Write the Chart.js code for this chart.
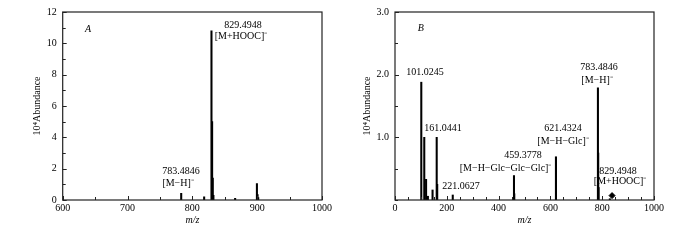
<!DOCTYPE html>
<html>
<head>
<meta charset="utf-8">
<script src="https://cdn.jsdelivr.net/npm/chart.js@4"></script>
<style>
  html, body { margin: 0; padding: 0; background: #fff; }
  .wrap { display: flex; width: 700px; height: 240px; }
  .wrap div { width: 350px; height: 240px; position: relative; }
</style>
</head>
<body>
<div class="wrap">
  <div><canvas id="chartA"></canvas></div>
  <div><canvas id="chartB"></canvas></div>
</div>
<script>
'use strict';

// Panel A: full scan, m/z 600-1000
const mzA  = [782.8, 818.2, 829.5, 830.5, 831.5, 832.5, 866, 899.6, 900.6, 901.6];
const intA = [0.43, 0.2, 10.8, 5.0, 1.4, 0.3, 0.1, 1.05, 0.35, 0.15];

// Panel B: MS/MS of 783.4846
const mzB  = [101.5, 113, 120, 127, 145, 161, 163, 223, 459.4, 460.5, 621.4, 783.5, 784.6, 786, 829.5];
const intB = [1.88, 1.0, 0.33, 0.06, 0.16, 1.0, 0.25, 0.08, 0.39, 0.1, 0.69, 1.79, 0.75, 0.2, 0.02];

// precursor marker (diamond)
const markerB = [{ x: 838, y: 0.07 }];

// peak labels: text, anchor m/z, anchor abundance
const labelsA = [
  { t: 'A', x: 639, y: 10.9, it: true },
  { t: '829.4948', x: 878, y: 11.15 },
  { t: '[M+HOOC]\u207B', x: 875, y: 10.45 },
  { t: '783.4846', x: 782.5, y: 1.84 },
  { t: '[M\u2212H]\u207B', x: 778, y: 1.08 },
];
const labelsB = [
  { t: 'B', x: 100, y: 2.74, it: true },
  { t: '101.0245', x: 116, y: 2.04 },
  { t: '161.0441', x: 185, y: 1.15 },
  { t: '221.0627', x: 255, y: 0.21 },
  { t: '459.3778', x: 494, y: 0.72 },
  { t: '[M\u2212H\u2212Glc\u2212Glc\u2212Glc]\u207B', x: 427, y: 0.51 },
  { t: '621.4324', x: 649, y: 1.15 },
  { t: '[M\u2212H\u2212Glc]\u207B', x: 649, y: 0.94 },
  { t: '783.4846', x: 788, y: 2.12 },
  { t: '[M\u2212H]\u207B', x: 780, y: 1.91 },
  { t: '829.4948', x: 861, y: 0.46 },
  { t: '[M+HOOC]\u207B', x: 869, y: 0.29 },
];

const FONT = '"Liberation Serif", "Times New Roman", serif';
const INK = '#000';
const AXIS = '#222';

// frame + inward tick marks + peak labels
const framePlugin = {
  id: 'frame',
  afterDraw(chart, args, opts) {
    const { ctx, chartArea: a, scales } = chart;
    ctx.save();
    ctx.strokeStyle = AXIS;
    ctx.lineWidth = 1.2;
    ctx.strokeRect(a.left, a.top, a.right - a.left, a.bottom - a.top);
    ctx.lineWidth = 1;
    scales.x.ticks.forEach(tk => {
      const px = Math.round(scales.x.getPixelForValue(tk.value)) + 0.5;
      const len = tk.label ? 4 : 3;
      ctx.beginPath();
      ctx.moveTo(px, a.bottom); ctx.lineTo(px, a.bottom - len);
      ctx.stroke();
    });
    scales.y.ticks.forEach(tk => {
      const py = Math.round(scales.y.getPixelForValue(tk.value)) + 0.5;
      const len = tk.label ? 4 : 3;
      ctx.beginPath();
      ctx.moveTo(a.left, py); ctx.lineTo(a.left + len, py);
      ctx.stroke();
    });
    ctx.fillStyle = INK;
    ctx.textAlign = 'center';
    ctx.textBaseline = 'middle';
    (opts.labels || []).forEach(l => {
      ctx.font = (l.it ? 'italic ' : '') + '10px ' + FONT;
      ctx.fillText(l.t, scales.x.getPixelForValue(l.x), scales.y.getPixelForValue(l.y));
    });
    ctx.restore();
  },
};

function makeSpectrum(id, mz, ab, cfg) {
  const datasets = [{
    type: 'bar',
    data: mz.map((m, i) => ({ x: m, y: ab[i] })),
    backgroundColor: INK,
    barThickness: 1.4,
    grouped: false,
  }];
  if (cfg.marker) {
    datasets.push({
      type: 'scatter',
      data: cfg.marker,
      pointStyle: 'rectRot',
      pointRadius: 3,
      backgroundColor: INK,
      borderColor: INK,
    });
  }
  return new Chart(document.getElementById(id), {
    type: 'bar',
    data: { datasets },
    options: {
      responsive: true,
      maintainAspectRatio: false,
      animation: false,
      events: [],
      layout: { padding: cfg.pad },
      plugins: { legend: { display: false }, tooltip: { enabled: false }, frame: { labels: cfg.labels } },
      scales: {
        x: {
          type: 'linear',
          min: cfg.xMin, max: cfg.xMax,
          offset: false,
          grid: { display: false, drawTicks: false },
          border: { display: false },
          afterFit: s => { s.height = 30; },
          afterBuildTicks: s => { s.ticks = cfg.xTicks.map(v => ({ value: v })); },
          ticks: {
            autoSkip: false, maxRotation: 0, padding: 2,
            color: INK, font: { family: FONT, size: 10 },
            callback: v => (cfg.xLabels.includes(v) ? String(v) : ''),
          },
          title: { display: true, text: 'm/z', color: INK, font: { family: FONT, size: 10, style: 'italic' } },
        },
        y: {
          min: 0, max: cfg.yMax,
          grid: { display: false, drawTicks: false },
          border: { display: false },
          afterFit: s => { s.width = cfg.yWidth; },
          afterBuildTicks: s => { s.ticks = cfg.yTicks.map(v => ({ value: v })); },
          ticks: {
            autoSkip: false, padding: 6,
            color: INK, font: { family: FONT, size: 10 },
            callback: v => (cfg.yLabels.includes(v) ? cfg.yFmt(v) : ''),
          },
          title: { display: true, text: '10\u2074Abundance', color: INK, font: { family: FONT, size: 10 } },
        },
      },
    },
    plugins: [framePlugin],
  });
}

makeSpectrum('chartA', mzA, intA, {
  pad: { left: 27, right: 28, top: 11, bottom: 10 },
  yWidth: 35.7,
  xMin: 600, xMax: 1000, yMax: 12,
  xTicks: [600, 650, 700, 750, 800, 850, 900, 950, 1000],
  xLabels: [600, 700, 800, 900, 1000],
  yTicks: [0, 1, 2, 3, 4, 5, 6, 7, 8, 9, 10, 11, 12],
  yLabels: [0, 2, 4, 6, 8, 10, 12],
  yFmt: v => String(v),
  labels: labelsA,
});

makeSpectrum('chartB', mzB, intB, {
  pad: { left: 7, right: 46, top: 11, bottom: 10 },
  yWidth: 38,
  xMin: 0, xMax: 1000, yMax: 3,
  xTicks: [0, 50, 100, 150, 200, 250, 300, 350, 400, 450, 500, 550, 600, 650, 700, 750, 800, 850, 900, 950, 1000],
  xLabels: [0, 200, 400, 600, 800, 1000],
  yTicks: [0, 0.5, 1, 1.5, 2, 2.5, 3],
  yLabels: [1, 2, 3],
  yFmt: v => v.toFixed(1),
  labels: labelsB,
  marker: markerB,
});
</script>
</body>
</html>
